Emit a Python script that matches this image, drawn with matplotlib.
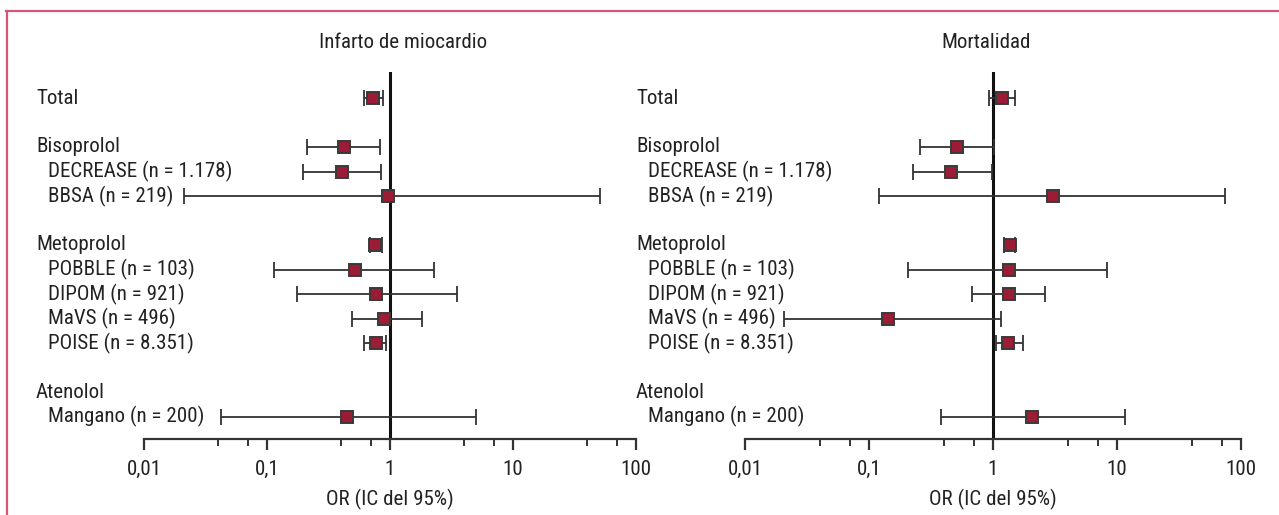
import matplotlib
matplotlib.use("Agg")
import matplotlib.pyplot as plt
from matplotlib.lines import Line2D
from matplotlib.ticker import FixedLocator, NullFormatter
from matplotlib import font_manager as fm

# pick a narrow/condensed sans if one is installed
_fonts = fm.fontManager.ttflist
_names = {f.name for f in _fonts}
font_kw = dict(family=['Liberation Sans', 'DejaVu Sans'])
fs = 13.2
for cand in ["Liberation Sans Narrow", "Roboto Condensed", "Open Sans Condensed", "Noto Sans Condensed"]:
    if cand in _names:
        font_kw = dict(family=[cand, 'DejaVu Sans'])
        fs = 14.5 * 1.045
        break
else:
    for base in ["Roboto", "Noto Sans", "Open Sans", "DejaVu Sans"]:
        hits = [f for f in _fonts if f.name == base and (str(f.stretch).lower() in ("condensed", "semi-condensed") or (isinstance(f.stretch, int) and f.stretch < 500))]
        if hits:
            font_kw = dict(family=[base, 'DejaVu Sans'], stretch='condensed')
            fs = 13.5 * 1.045
            break

plt.rcParams['font.family'] = font_kw['family']
if 'stretch' in font_kw:
    plt.rcParams['font.stretch'] = font_kw['stretch']

# ---- data ----
row_labels = ["Total", "", "Bisoprolol", "DECREASE (n = 1.178)", "BBSA (n = 219)", "",
              "Metoprolol", "POBBLE (n = 103)", "DIPOM (n = 921)", "MaVS (n = 496)",
              "POISE (n = 8.351)", "", "Atenolol", "Mangano (n = 200)"]
row_is_group = [True, False, True, False, False, False, True, False, False, False,
                False, False, True, False]

panel_titles = ["Infarto de miocardio", "Mortalidad"]

# Infarto de miocardio (None = empty row)
mi_or = [0.73, None, 0.42, 0.41, 0.97, None, 0.76, 0.52, 0.77, 0.89, 0.77, None, None, 0.45]
mi_lo = [0.61, None, 0.21, 0.197, 0.021, None, 0.69, 0.115, 0.176, 0.49, 0.62, None, None, 0.042]
mi_hi = [0.88, None, 0.83, 0.85, 51.0, None, 0.86, 2.3, 3.5, 1.82, 0.93, None, None, 5.0]

# Mortalidad
mo_or = [1.19, None, 0.51, 0.46, 3.03, None, 1.36, 1.34, 1.34, 0.143, 1.32, None, None, 2.08]
mo_lo = [0.93, None, 0.26, 0.226, 0.12, None, 1.22, 0.208, 0.68, 0.0208, 1.06, None, None, 0.38]
mo_hi = [1.50, None, 1.01, 0.98, 74.0, None, 1.51, 8.3, 2.65, 1.15, 1.75, None, None, 11.5]

major_ticks = [0.01, 0.1, 1, 10, 100]
major_labels = ["0,01", "0,1", "1", "10", "100"]
minor_ticks = [0.04, 0.07, 0.4, 0.7, 4, 7, 40, 70]
xlabel = "OR (IC del 95%)"

# ---- layout ----
W, H = 1279, 515
fig = plt.figure(figsize=(W / 100, H / 100), dpi=100)

def fx(px):
    return px / W

def fy(py):
    return 1 - py / H

ax_top_px, ax_bot_px = 72, 439
row0_px, row_step = 98, 24.5
ylim_top = (ax_top_px - row0_px) / row_step
ylim_bot = (ax_bot_px - row0_px) / row_step

panels = [
    dict(x0=144, x1=636, lab_x=36, title_x=403, or_=mi_or, lo=mi_lo, hi=mi_hi, title=panel_titles[0]),
    dict(x0=745, x1=1241, lab_x=636, title_x=986, or_=mo_or, lo=mo_lo, hi=mo_hi, title=panel_titles[1]),
]

line_col = "#333333"
fill_col = "#9c1b35"
edge_col = "#3a3a3a"
txt_col = "#222222"

for p in panels:
    ax = fig.add_axes([fx(p["x0"]), fy(ax_bot_px), fx(p["x1"] - p["x0"]),
                       (ax_bot_px - ax_top_px) / H])
    ax.set_xscale("log")
    ax.set_xlim(0.01, 100)
    ax.set_ylim(ylim_bot, ylim_top)
    for s in ["left", "right", "top"]:
        ax.spines[s].set_visible(False)
    ax.spines["bottom"].set_color(line_col)
    ax.spines["bottom"].set_linewidth(1.6)
    ax.yaxis.set_visible(False)
    ax.xaxis.set_major_locator(FixedLocator(major_ticks))
    ax.set_xticklabels(major_labels)
    ax.xaxis.set_minor_locator(FixedLocator(minor_ticks))
    ax.xaxis.set_minor_formatter(NullFormatter())
    ax.tick_params(axis="x", which="major", direction="out", length=8, width=1.6,
                   color=line_col, labelsize=fs, labelcolor=txt_col, pad=7)
    ax.tick_params(axis="x", which="minor", direction="out", length=5, width=1.4,
                   color=line_col)
    ax.set_xlabel(xlabel, fontsize=fs, color=txt_col, labelpad=7)
    ax.patch.set_alpha(0)

    # reference line at OR = 1
    ax.axvline(1, color="#111111", lw=2.2, zorder=2)

    for i, (o, l, h) in enumerate(zip(p["or_"], p["lo"], p["hi"])):
        if o is None:
            continue
        ax.errorbar([o], [i], xerr=[[o - l], [h - o]], fmt="none", ecolor=line_col,
                    elinewidth=1.3, capsize=6, capthick=1.3, zorder=3)
        ax.plot([o], [i], marker="s", markersize=9, markerfacecolor=fill_col,
                markeredgecolor=edge_col, markeredgewidth=1.4, zorder=4, ls="none")

    # row labels
    for i, (lab, g) in enumerate(zip(row_labels, row_is_group)):
        if not lab:
            continue
        xpx = p["lab_x"] + (0 if g else 12)
        fig.text(fx(xpx), fy(row0_px + row_step * i), lab, fontsize=fs,
                 color=txt_col, ha="left", va="center")

    # title
    fig.text(fx(p["title_x"]), fy(43), p["title"], fontsize=fs, color=txt_col,
             ha="center", va="center")

# pink frame (left and top edges visible)
border_col = "#d4577a"
fig.add_artist(Line2D([fx(6.5), fx(6.5)], [fy(11), fy(H + 5)], color=border_col,
                      lw=1.6, transform=fig.transFigure))
fig.add_artist(Line2D([fx(5.7), fx(W + 5)], [fy(11), fy(11)], color=border_col,
                      lw=1.6, transform=fig.transFigure))

fig.savefig("out.png", dpi=100, facecolor="white")
